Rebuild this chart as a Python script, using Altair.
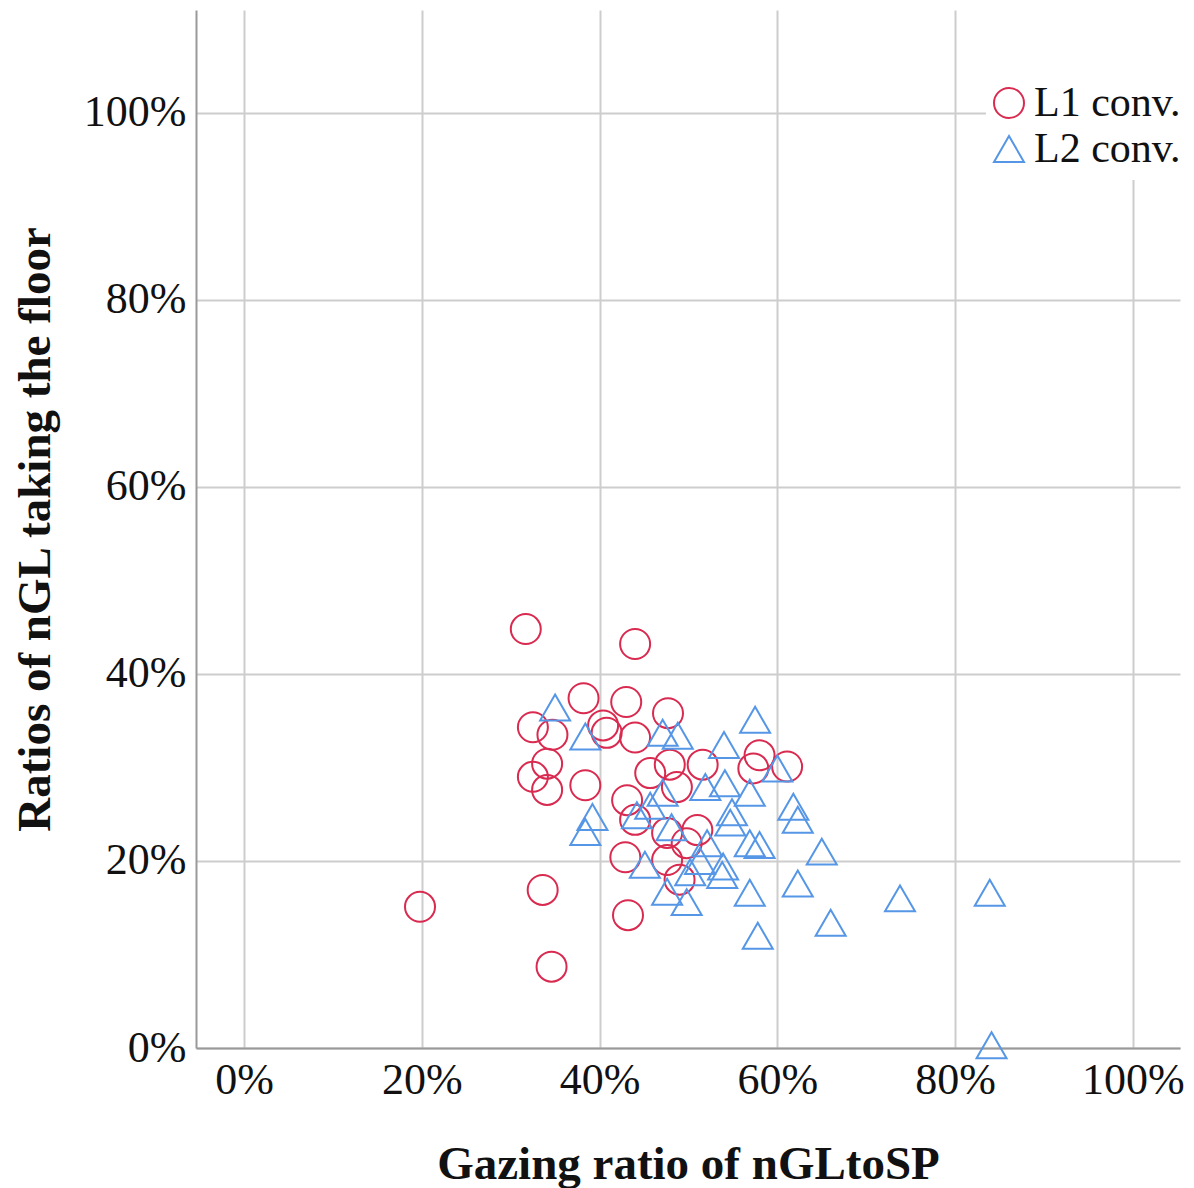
import altair as alt
import pandas as pd

# L1 conversation points (gazing ratio %, taking-floor ratio %)
l1_x = [31.7, 44.0, 38.2, 43.0, 47.7, 32.5, 34.7, 40.4, 40.8, 44.0, 34.1, 32.5, 34.1,
        38.4, 45.7, 47.9, 48.7, 51.6, 58.0, 57.3, 61.1, 43.1, 44.0, 47.6, 51.0, 42.9,
        47.6, 49.8, 49.0, 43.2, 33.6, 34.6, 19.8]
l1_y = [44.8, 43.2, 37.4, 37.0, 35.8, 34.3, 33.5, 34.5, 33.7, 33.2, 30.4, 29.0, 27.6,
        28.1, 29.4, 30.3, 27.9, 30.3, 31.3, 29.9, 30.1, 26.5, 24.4, 23.0, 23.3, 20.4,
        20.1, 21.9, 18.0, 14.2, 16.9, 8.7, 15.1]

# L2 conversation points
l2_x = [35.0, 38.4, 47.1, 48.8, 54.0, 57.5, 60.0, 51.9, 54.1, 56.9, 47.1, 45.7, 44.2,
        39.2, 38.4, 48.1, 54.9, 54.7, 61.8, 62.3, 52.1, 56.9, 58.0, 65.0, 45.1, 50.2,
        53.9, 53.8, 51.3, 62.3, 47.6, 49.8, 56.9, 57.8, 66.0, 73.8, 83.9, 84.1]
l2_y = [36.4, 33.3, 33.7, 33.4, 32.4, 35.1, 29.9, 27.9, 28.3, 27.3, 27.3, 25.9, 24.9,
        24.7, 23.1, 23.6, 25.2, 24.1, 25.8, 24.4, 21.9, 21.9, 21.7, 21.0, 19.6, 18.8,
        19.4, 18.5, 20.0, 17.6, 16.7, 15.6, 16.6, 12.0, 13.4, 16.0, 16.6, 0.3]

groups = ["L1 conv.", "L2 conv."]
ticks = [0, 20, 40, 60, 80, 100]

df = pd.DataFrame({
    "x": l1_x + l2_x,
    "y": l1_y + l2_y,
    "group": [groups[0]] * len(l1_x) + [groups[1]] * len(l2_x),
})

FONT = "Liberation Serif"
GRID = "#cdcdcd"

legend = alt.Legend(title=None, orient="none", legendX=792, legendY=72,
                    labelFont=FONT, labelFontSize=42, labelColor="#111",
                    symbolSize=900, symbolStrokeWidth=2, labelOffset=4,
                    rowPadding=4, padding=0)

points = alt.Chart(df).mark_point(filled=False, strokeWidth=2, size=900, opacity=1).encode(
    x=alt.X("x:Q", scale=alt.Scale(domain=[-5.4, 105.3], nice=False, zero=False),
            axis=alt.Axis(values=ticks, labelExpr="datum.value + '%'",
                          title="Gazing ratio of nGLtoSP", grid=True)),
    y=alt.Y("y:Q", scale=alt.Scale(domain=[0, 111], nice=False),
            axis=alt.Axis(values=ticks, labelExpr="datum.value + '%'",
                          title="Ratios of nGL taking the floor", grid=True)),
    color=alt.Color("group:N", scale=alt.Scale(domain=groups, range=["#d92a50", "#5596e6"]),
                    legend=legend),
    shape=alt.Shape("group:N", scale=alt.Scale(domain=groups, range=["circle", "triangle-up"]),
                    legend=legend),
)

patch = alt.Chart(df).mark_rect(color="white").encode(
    x=alt.value(790), x2=alt.value(990), y=alt.value(0), y2=alt.value(170)
)

chart = alt.layer(patch, points).properties(
    width=984, height=1038,
    autosize=alt.AutoSizeParams(type="none"),
    padding={"left": 188, "top": 2, "right": 6, "bottom": 140},
).configure_view(stroke=None).configure_axis(
    labelFont=FONT, labelFontSize=44, labelColor="#111", labelPadding=10,
    titleFont=FONT, titleFontSize=47, titleFontWeight="bold", titleColor="#111",
    ticks=False, domainColor="#999999", domainWidth=2,
    gridColor=GRID, gridWidth=2, gridOpacity=1,
).configure_axisX(
    titleBaseline="alphabetic", titleY=130, labelFlush=False,
).configure_axisY(
    titleBaseline="alphabetic", titleX=-147, titleAngle=270, labelFlush=False,
)

chart.save("out.html", embed_options={"renderer": "svg", "actions": False})
